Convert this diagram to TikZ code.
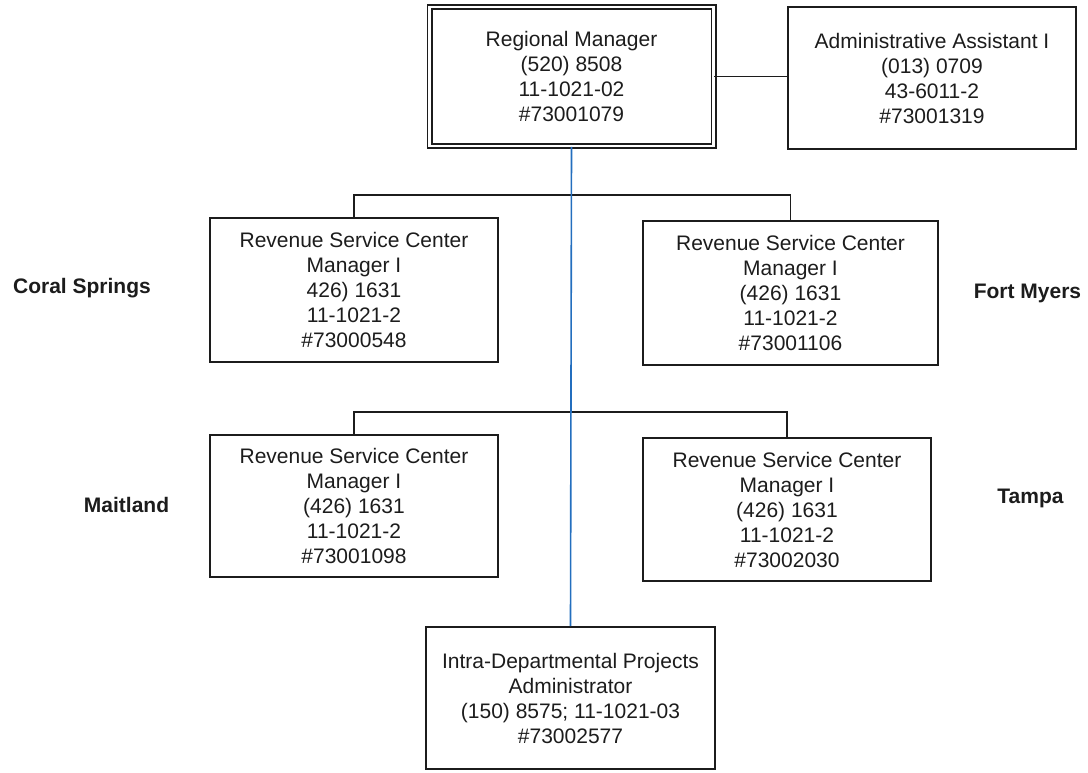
\documentclass[tikz,border=0pt]{standalone}
\usepackage{fontspec}
\setmainfont{Liberation Sans}
\definecolor{linkblue}{RGB}{35,110,190}
\definecolor{ink}{RGB}{28,28,28}
\begin{document}
\begin{tikzpicture}[x=1pt,y=-1pt,
  posbox/.style={draw=ink, line width=1.8pt, align=center, inner sep=0pt,
    font=\fontsize{21}{25}\selectfont, text=ink},
  sitelabel/.style={font=\bfseries\fontsize{21}{25}\selectfont, text=ink, inner sep=0pt},
  link/.style={draw=ink, line width=1.8pt},
  directlink/.style={draw=linkblue, line width=1.6pt}
]
\useasboundingbox (0,0) rectangle (1088,772);

% head of the region, framed with a double rule
\node[posbox, double, double distance=2.6pt, line width=1.7pt,
  minimum width=284pt, minimum height=139pt] (rm) at (571.5,76.5)
  {Regional Manager\\(520) 8508\\11-1021-02\\\#73001079};

\node[posbox, minimum width=288pt, minimum height=142pt] (aa) at (932,78)
  {Administrative Assistant I\\(013) 0709\\43-6011-2\\\#73001319};

% service centers
\node[posbox, minimum width=288pt, minimum height=144pt] (coral) at (354,290)
  {Revenue Service Center\\Manager I\\426) 1631\\11-1021-2\\\#73000548};
\node[posbox, minimum width=295pt, minimum height=144pt] (fm) at (790.5,293)
  {Revenue Service Center\\Manager I\\(426) 1631\\11-1021-2\\\#73001106};
\node[posbox, minimum width=288pt, minimum height=142pt] (mait) at (354,506)
  {Revenue Service Center\\Manager I\\(426) 1631\\11-1021-2\\\#73001098};
\node[posbox, minimum width=288pt, minimum height=143pt] (tampa) at (787,509.5)
  {Revenue Service Center\\Manager I\\(426) 1631\\11-1021-2\\\#73002030};

\node[posbox, minimum width=289pt, minimum height=142pt] (intra) at (570.5,698)
  {Intra-Departmental Projects\\Administrator\\(150) 8575; 11-1021-03\\\#73002577};

% site names
\node[sitelabel] (lcoral) at (82,288) {Coral Springs};
\node[sitelabel] (lfm) at (1027.5,293) {Fort Myers};
\node[sitelabel] (lmait) at (126.5,505) {Maitland};
\node[sitelabel] (ltampa) at (1030.5,498) {Tampa};

% reporting lines
\coordinate (bus1) at (571,195);
\coordinate (bus2) at (571,412);
\draw[link] (rm.east) -- (rm.east -| aa.west);
\draw[link] (coral.north) |- (bus1) -| (fm.north);
\draw[link] (mait.north) |- (bus2) -| (tampa.north);
\draw[directlink] (rm.south) -- (intra.north);
\end{tikzpicture}
\end{document}
